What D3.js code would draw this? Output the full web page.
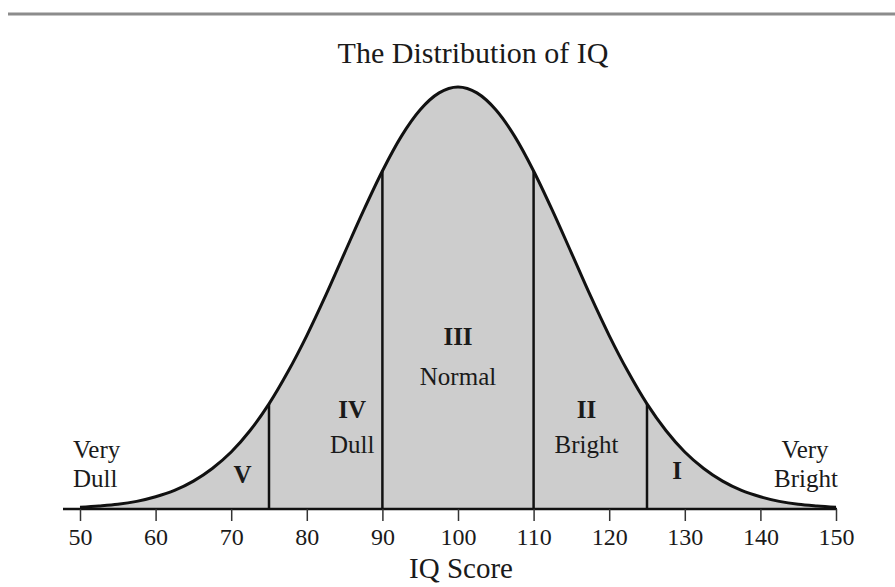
<!DOCTYPE html>
<html><head><meta charset="utf-8">
<script src="https://cdn.jsdelivr.net/npm/d3@7/dist/d3.min.js"></script>
<style>body{margin:0;background:#fff}svg{display:block}text{font-family:"Liberation Serif","Times New Roman",serif;fill:#1a1a1a}</style>
</head><body>
<script>
// IQ scores and relative curve heights (peak = 1)
const iqScores = [50,52.5,55,57.5,60,62.5,65,67.5,70,72.5,75,77.5,80,82.5,85,87.5,90,92.5,95,97.5,100,102.5,105,107.5,110,112.5,115,117.5,120,122.5,125,127.5,130,132.5,135,137.5,140,142.5,145,147.5,150];
const curveHeights = [0.004,0.007,0.011,0.018,0.029,0.044,0.066,0.096,0.135,0.186,0.249,0.325,0.411,0.506,0.607,0.707,0.801,0.883,0.946,0.986,1,0.986,0.946,0.883,0.801,0.707,0.607,0.506,0.411,0.325,0.249,0.186,0.135,0.096,0.066,0.044,0.029,0.018,0.011,0.007,0.004];
const tickValues = [50,60,70,80,90,100,110,120,130,140,150];
const cutPoints = [75,90,110,125];
const regionLabels = [
  {x:71.5, lines:["V"], bold:[true], y:[483]},
  {x:86, lines:["IV","Dull"], bold:[true,false], y:[418,453]},
  {x:100, lines:["III","Normal"], bold:[true,false], y:[345,385]},
  {x:117, lines:["II","Bright"], bold:[true,false], y:[418,453]},
  {x:129, lines:["I"], bold:[true], y:[479]}
];
const title = "The Distribution of IQ";
const xTitle = "IQ Score";

const W=895,H=587;
const svg=d3.select("body").append("svg").attr("width",W).attr("height",H);
const x=d3.scaleLinear().domain([50,150]).range([80,836]);
const y=d3.scaleLinear().domain([0,1]).range([509,87]);
const data=iqScores.map((v,i)=>({x:v,h:curveHeights[i]}));

// top rule
svg.append("line").attr("x1",8).attr("x2",W).attr("y1",14).attr("y2",14).attr("stroke","#8c8c8c").attr("stroke-width",3);

svg.append("text").attr("x",473).attr("y",63).attr("text-anchor","middle").attr("font-size",30).text(title);

const area=d3.area().x(d=>x(d.x)).y0(y(0)).y1(d=>y(d.h)).curve(d3.curveMonotoneX);
svg.append("path").datum(data).attr("d",area).attr("fill","#cdcdcd");

// cut lines
const hAt=v=>curveHeights[iqScores.indexOf(v)];
svg.selectAll(".cut").data(cutPoints).join("line")
  .attr("x1",d=>x(d)).attr("x2",d=>x(d)).attr("y1",y(0)).attr("y2",d=>y(hAt(d)))
  .attr("stroke","#111").attr("stroke-width",2.5);

const line=d3.line().x(d=>x(d.x)).y(d=>y(d.h)).curve(d3.curveMonotoneX);
svg.append("path").datum(data).attr("d",line).attr("fill","none").attr("stroke","#111").attr("stroke-width",3);

// axis
const ax=svg.append("g").attr("transform",`translate(0,${y(0)})`)
  .call(d3.axisBottom(x).tickValues(tickValues).tickSize(12).tickPadding(7).tickSizeOuter(0));
ax.select(".domain").attr("d",`M63,0H837`).attr("stroke","#111").attr("stroke-width",2.5);
ax.selectAll(".tick line").attr("stroke","#333").attr("stroke-width",1.5);
ax.selectAll(".tick text").attr("font-size",24).attr("font-family","Liberation Serif, serif").attr("fill","#1a1a1a");

svg.append("text").attr("x",461).attr("y",578).attr("text-anchor","middle").attr("font-size",29).text(xTitle);

// region labels
regionLabels.forEach(r=>{
  r.lines.forEach((t,i)=>{
    svg.append("text").attr("x",x(r.x)).attr("y",r.y[i]).attr("text-anchor","middle")
      .attr("font-size",25).attr("font-weight",r.bold[i]?"bold":"normal").text(t);
  });
});
// tail labels
[["Very",73,458],["Dull",73,487]].forEach(([t,xx,yy])=>svg.append("text").attr("x",xx).attr("y",yy).attr("font-size",25).text(t));
[["Very",805,458],["Bright",806,487]].forEach(([t,xx,yy])=>svg.append("text").attr("x",xx).attr("y",yy).attr("text-anchor","middle").attr("font-size",25).text(t));
</script>
</body></html>
